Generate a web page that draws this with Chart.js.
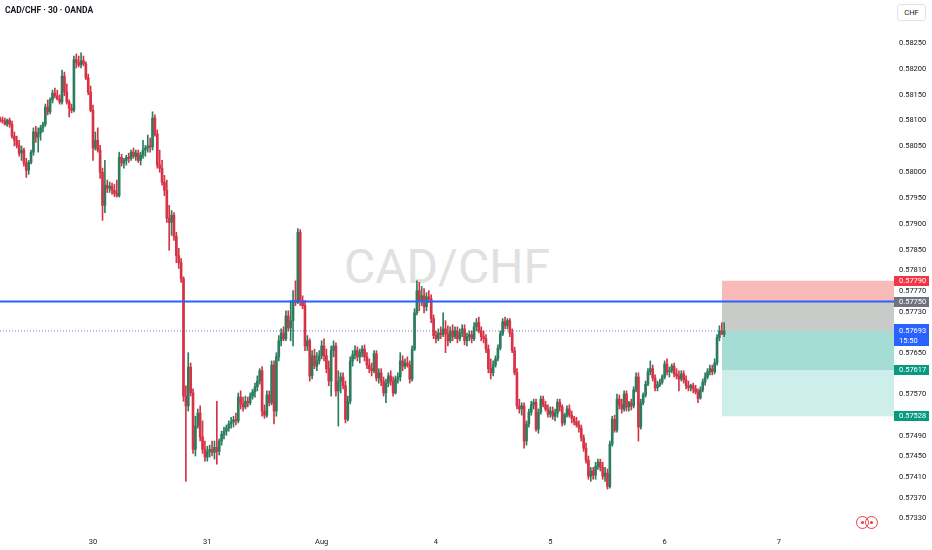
<!DOCTYPE html>
<html>
<head>
<meta charset="utf-8">
<script src="https://cdn.jsdelivr.net/npm/chart.js@4.4.1/dist/chart.umd.min.js"></script>
<style>
html,body{margin:0;padding:0;background:#fff;}
#wrap{position:relative;width:932px;height:550px;overflow:hidden;font-family:Roboto,"Noto Sans",sans-serif;}
#wm{position:absolute;left:0;top:3px;width:894px;height:526px;display:flex;align-items:center;justify-content:center;font-size:48px;color:#e1e1e1;z-index:0;white-space:nowrap;}
#c{position:absolute;left:0;top:0;z-index:1;}
#title{position:absolute;left:5px;top:5px;font-size:8.5px;font-weight:700;color:#131722;z-index:2;white-space:nowrap;}
#cur{position:absolute;left:897px;top:4px;width:27px;height:15px;border:1px solid #e0e3eb;border-radius:3px;font-size:7.5px;line-height:15px;text-align:center;color:#131722;background:#fff;z-index:2;}
.ring{position:absolute;top:516px;width:13px;height:13px;border:1.4px solid #f23645;border-radius:50%;z-index:2;box-sizing:border-box;}
.dot{position:absolute;top:3.6px;left:3.6px;width:3px;height:3px;background:#f23645;border-radius:50%;}
</style>
</head>
<body>
<div id="wrap">
  <div id="wm">CAD/CHF</div>
  <canvas id="c" width="932" height="550"></canvas>
  <div id="title">CAD/CHF · 30 · OANDA</div>
  <div id="cur">CHF</div>
  <div class="ring" style="left:856px"><div class="dot"></div></div>
  <div class="ring" style="left:865px"><div class="dot"></div></div>
</div>
<script>
// 30-minute candles, bar index 0..304 (CAD/CHF, OANDA)
const opens = [
0.58103,0.58101,0.58099,0.58093,0.58101,0.58093,0.58070,0.58062,0.58052,0.58037,
0.58043,0.58018,0.58004,0.58019,0.58039,0.58078,0.58068,0.58076,0.58086,0.58093,
0.58126,0.58117,0.58140,0.58153,0.58148,0.58142,0.58136,0.58186,0.58155,0.58136,
0.58124,0.58120,0.58218,0.58212,0.58208,0.58216,0.58210,0.58183,0.58155,0.58120,
0.58047,0.58062,0.58043,0.58000,0.57936,0.57975,0.57969,0.57973,0.57965,0.57959,
0.57955,0.58029,0.58018,0.58023,0.58029,0.58027,0.58039,0.58031,0.58037,0.58023,
0.58033,0.58043,0.58047,0.58051,0.58049,0.58105,0.58074,0.58014,0.58008,0.57981,
0.57965,0.57911,0.57903,0.57917,0.57876,0.57839,0.57825,0.57794,0.57567,0.57548,
0.57623,0.57573,0.57464,0.57509,0.57534,0.57488,0.57464,0.57449,0.57460,0.57464,
0.57458,0.57468,0.57460,0.57480,0.57493,0.57499,0.57505,0.57513,0.57517,0.57521,
0.57519,0.57565,0.57552,0.57546,0.57557,0.57554,0.57567,0.57575,0.57585,0.57596,
0.57616,0.57538,0.57530,0.57569,0.57554,0.57627,0.57538,0.57643,0.57674,0.57689,
0.57678,0.57722,0.57699,0.57713,0.57752,0.57748,0.57884,0.57752,0.57742,0.57664,
0.57674,0.57606,0.57645,0.57625,0.57635,0.57645,0.57664,0.57645,0.57620,0.57596,
0.57655,0.57664,0.57577,0.57596,0.57604,0.57587,0.57522,0.57557,0.57635,0.57647,
0.57655,0.57643,0.57651,0.57658,0.57643,0.57627,0.57620,0.57616,0.57649,0.57602,
0.57612,0.57596,0.57573,0.57592,0.57606,0.57596,0.57573,0.57600,0.57604,0.57635,
0.57625,0.57631,0.57627,0.57600,0.57658,0.57728,0.57771,0.57752,0.57761,0.57740,
0.57759,0.57755,0.57717,0.57684,0.57678,0.57689,0.57686,0.57697,0.57687,0.57674,
0.57693,0.57682,0.57693,0.57678,0.57689,0.57697,0.57674,0.57682,0.57686,0.57678,
0.57701,0.57709,0.57693,0.57682,0.57678,0.57658,0.57620,0.57612,0.57627,0.57639,
0.57660,0.57687,0.57711,0.57703,0.57713,0.57689,0.57655,0.57612,0.57548,0.57542,
0.57548,0.57480,0.57513,0.57536,0.57550,0.57555,0.57503,0.57536,0.57561,0.57550,
0.57542,0.57532,0.57538,0.57528,0.57534,0.57555,0.57546,0.57515,0.57530,0.57542,
0.57530,0.57524,0.57517,0.57511,0.57505,0.57486,0.57466,0.57443,0.57412,0.57422,
0.57414,0.57431,0.57439,0.57429,0.57412,0.57418,0.57392,0.57474,0.57522,0.57501,
0.57561,0.57550,0.57542,0.57571,0.57546,0.57554,0.57548,0.57579,0.57604,0.57507,
0.57554,0.57569,0.57590,0.57614,0.57620,0.57602,0.57583,0.57589,0.57594,0.57604,
0.57629,0.57614,0.57616,0.57625,0.57610,0.57606,0.57600,0.57610,0.57598,0.57587,
0.57583,0.57587,0.57581,0.57575,0.57563,0.57579,0.57594,0.57604,0.57614,0.57620,
0.57614,0.57631,0.57680,0.57693,0.57687];
const highs = [
0.58107,0.58107,0.58105,0.58103,0.58105,0.58099,0.58078,0.58070,0.58062,0.58051,
0.58047,0.58027,0.58023,0.58043,0.58086,0.58089,0.58086,0.58091,0.58097,0.58132,
0.58140,0.58144,0.58159,0.58163,0.58159,0.58150,0.58198,0.58194,0.58171,0.58140,
0.58132,0.58225,0.58229,0.58225,0.58231,0.58225,0.58214,0.58190,0.58167,0.58130,
0.58078,0.58086,0.58052,0.58008,0.58023,0.57985,0.57981,0.57979,0.57977,0.57985,
0.58039,0.58035,0.58027,0.58033,0.58037,0.58043,0.58047,0.58043,0.58043,0.58039,
0.58062,0.58052,0.58072,0.58066,0.58117,0.58111,0.58082,0.58043,0.58023,0.57994,
0.57985,0.57936,0.57926,0.57922,0.57884,0.57853,0.57833,0.57798,0.57587,0.57651,
0.57631,0.57581,0.57528,0.57542,0.57548,0.57519,0.57480,0.57470,0.57472,0.57480,
0.57480,0.57557,0.57484,0.57499,0.57507,0.57511,0.57519,0.57526,0.57528,0.57534,
0.57573,0.57577,0.57565,0.57567,0.57565,0.57573,0.57580,0.57592,0.57606,0.57620,
0.57624,0.57550,0.57577,0.57577,0.57635,0.57635,0.57651,0.57684,0.57697,0.57701,
0.57732,0.57732,0.57752,0.57771,0.57790,0.57891,0.57889,0.57761,0.57752,0.57684,
0.57678,0.57655,0.57658,0.57651,0.57655,0.57674,0.57678,0.57658,0.57635,0.57664,
0.57674,0.57670,0.57616,0.57612,0.57612,0.57596,0.57567,0.57643,0.57655,0.57664,
0.57662,0.57658,0.57664,0.57666,0.57651,0.57639,0.57631,0.57655,0.57655,0.57620,
0.57620,0.57604,0.57600,0.57612,0.57616,0.57604,0.57606,0.57612,0.57651,0.57645,
0.57639,0.57643,0.57635,0.57664,0.57736,0.57790,0.57787,0.57779,0.57775,0.57767,
0.57771,0.57763,0.57724,0.57693,0.57697,0.57701,0.57728,0.57713,0.57703,0.57701,
0.57705,0.57701,0.57701,0.57697,0.57705,0.57705,0.57689,0.57693,0.57693,0.57709,
0.57717,0.57720,0.57701,0.57693,0.57686,0.57666,0.57639,0.57635,0.57645,0.57666,
0.57693,0.57717,0.57720,0.57717,0.57717,0.57697,0.57662,0.57620,0.57561,0.57554,
0.57554,0.57519,0.57542,0.57557,0.57561,0.57561,0.57542,0.57567,0.57567,0.57557,
0.57550,0.57546,0.57546,0.57542,0.57561,0.57561,0.57550,0.57534,0.57548,0.57550,
0.57538,0.57528,0.57526,0.57519,0.57511,0.57492,0.57476,0.57451,0.57429,0.57429,
0.57439,0.57445,0.57445,0.57439,0.57429,0.57426,0.57480,0.57528,0.57530,0.57571,
0.57569,0.57561,0.57577,0.57577,0.57557,0.57561,0.57585,0.57612,0.57612,0.57561,
0.57573,0.57596,0.57620,0.57635,0.57627,0.57608,0.57596,0.57600,0.57608,0.57635,
0.57639,0.57623,0.57629,0.57631,0.57620,0.57616,0.57616,0.57616,0.57606,0.57596,
0.57590,0.57592,0.57588,0.57581,0.57585,0.57600,0.57612,0.57620,0.57627,0.57627,
0.57639,0.57686,0.57703,0.57709,0.57709];
const lows = [
0.58097,0.58095,0.58091,0.58089,0.58087,0.58066,0.58051,0.58047,0.58031,0.58023,
0.58012,0.57990,0.57996,0.58016,0.58033,0.58058,0.58039,0.58062,0.58078,0.58089,
0.58111,0.58113,0.58134,0.58144,0.58140,0.58132,0.58132,0.58148,0.58132,0.58107,
0.58115,0.58117,0.58202,0.58204,0.58202,0.58206,0.58179,0.58150,0.58117,0.58023,
0.58043,0.58039,0.57988,0.57907,0.57922,0.57961,0.57961,0.57957,0.57953,0.57952,
0.57952,0.58012,0.58008,0.58014,0.58019,0.58023,0.58027,0.58023,0.58019,0.58014,
0.58027,0.58031,0.58039,0.58039,0.58043,0.58070,0.58008,0.58000,0.57975,0.57955,
0.57903,0.57849,0.57878,0.57868,0.57825,0.57814,0.57787,0.57557,0.57402,0.57538,
0.57567,0.57456,0.57451,0.57505,0.57480,0.57456,0.57441,0.57441,0.57449,0.57451,
0.57445,0.57435,0.57453,0.57472,0.57484,0.57491,0.57499,0.57505,0.57507,0.57511,
0.57515,0.57542,0.57538,0.57542,0.57546,0.57550,0.57561,0.57565,0.57577,0.57590,
0.57528,0.57524,0.57526,0.57548,0.57550,0.57513,0.57528,0.57635,0.57664,0.57674,
0.57674,0.57693,0.57674,0.57664,0.57742,0.57746,0.57742,0.57736,0.57655,0.57655,
0.57596,0.57600,0.57620,0.57616,0.57629,0.57639,0.57635,0.57612,0.57587,0.57567,
0.57643,0.57567,0.57509,0.57573,0.57581,0.57515,0.57519,0.57552,0.57625,0.57639,
0.57635,0.57631,0.57643,0.57635,0.57620,0.57612,0.57606,0.57612,0.57596,0.57592,
0.57587,0.57567,0.57554,0.57585,0.57588,0.57567,0.57571,0.57592,0.57596,0.57616,
0.57620,0.57623,0.57592,0.57596,0.57655,0.57724,0.57732,0.57742,0.57728,0.57732,
0.57748,0.57709,0.57678,0.57670,0.57674,0.57678,0.57682,0.57651,0.57664,0.57670,
0.57674,0.57678,0.57670,0.57674,0.57682,0.57666,0.57664,0.57674,0.57670,0.57674,
0.57693,0.57689,0.57674,0.57670,0.57651,0.57612,0.57600,0.57606,0.57623,0.57635,
0.57656,0.57684,0.57697,0.57697,0.57682,0.57651,0.57608,0.57542,0.57534,0.57530,
0.57466,0.57472,0.57507,0.57530,0.57542,0.57499,0.57495,0.57532,0.57546,0.57538,
0.57526,0.57526,0.57522,0.57519,0.57526,0.57538,0.57509,0.57511,0.57526,0.57526,
0.57515,0.57511,0.57507,0.57497,0.57480,0.57460,0.57437,0.57406,0.57402,0.57406,
0.57406,0.57425,0.57422,0.57406,0.57402,0.57387,0.57389,0.57470,0.57497,0.57497,
0.57542,0.57534,0.57538,0.57538,0.57538,0.57540,0.57544,0.57575,0.57480,0.57503,
0.57550,0.57565,0.57587,0.57608,0.57596,0.57577,0.57577,0.57585,0.57590,0.57600,
0.57608,0.57604,0.57612,0.57604,0.57600,0.57577,0.57596,0.57592,0.57581,0.57577,
0.57577,0.57573,0.57571,0.57554,0.57561,0.57575,0.57588,0.57600,0.57608,0.57608,
0.57610,0.57627,0.57674,0.57686,0.57682];
const closes = [
0.58101,0.58099,0.58093,0.58101,0.58093,0.58070,0.58062,0.58052,0.58037,0.58043,
0.58018,0.58004,0.58019,0.58039,0.58078,0.58068,0.58076,0.58086,0.58093,0.58126,
0.58117,0.58140,0.58153,0.58148,0.58142,0.58136,0.58186,0.58155,0.58136,0.58124,
0.58120,0.58218,0.58212,0.58208,0.58216,0.58210,0.58183,0.58155,0.58120,0.58047,
0.58062,0.58043,0.58000,0.57936,0.57975,0.57969,0.57973,0.57965,0.57959,0.57955,
0.58029,0.58018,0.58023,0.58029,0.58027,0.58039,0.58031,0.58037,0.58023,0.58033,
0.58043,0.58047,0.58051,0.58049,0.58105,0.58074,0.58014,0.58008,0.57981,0.57965,
0.57911,0.57903,0.57917,0.57876,0.57839,0.57825,0.57794,0.57567,0.57548,0.57623,
0.57573,0.57464,0.57509,0.57534,0.57488,0.57464,0.57449,0.57460,0.57464,0.57458,
0.57468,0.57460,0.57480,0.57493,0.57499,0.57505,0.57513,0.57517,0.57521,0.57519,
0.57565,0.57552,0.57546,0.57557,0.57554,0.57567,0.57575,0.57585,0.57596,0.57616,
0.57538,0.57530,0.57569,0.57554,0.57627,0.57538,0.57643,0.57674,0.57689,0.57678,
0.57722,0.57699,0.57713,0.57752,0.57748,0.57884,0.57752,0.57742,0.57664,0.57674,
0.57606,0.57645,0.57625,0.57635,0.57645,0.57664,0.57645,0.57620,0.57596,0.57655,
0.57664,0.57577,0.57596,0.57604,0.57587,0.57522,0.57557,0.57635,0.57647,0.57655,
0.57643,0.57651,0.57658,0.57643,0.57627,0.57620,0.57616,0.57649,0.57602,0.57612,
0.57596,0.57573,0.57592,0.57606,0.57596,0.57573,0.57600,0.57604,0.57635,0.57625,
0.57631,0.57627,0.57600,0.57658,0.57728,0.57771,0.57752,0.57761,0.57740,0.57759,
0.57755,0.57717,0.57684,0.57678,0.57689,0.57686,0.57697,0.57687,0.57674,0.57693,
0.57682,0.57693,0.57678,0.57689,0.57697,0.57674,0.57682,0.57686,0.57678,0.57701,
0.57709,0.57693,0.57682,0.57678,0.57658,0.57620,0.57612,0.57627,0.57639,0.57660,
0.57687,0.57711,0.57703,0.57713,0.57689,0.57655,0.57612,0.57548,0.57542,0.57548,
0.57480,0.57513,0.57536,0.57550,0.57555,0.57503,0.57536,0.57561,0.57550,0.57542,
0.57532,0.57538,0.57528,0.57534,0.57555,0.57546,0.57515,0.57530,0.57542,0.57530,
0.57524,0.57517,0.57511,0.57505,0.57486,0.57466,0.57443,0.57412,0.57422,0.57414,
0.57431,0.57439,0.57429,0.57412,0.57418,0.57392,0.57474,0.57522,0.57501,0.57561,
0.57550,0.57542,0.57571,0.57546,0.57554,0.57548,0.57579,0.57604,0.57507,0.57554,
0.57569,0.57590,0.57614,0.57620,0.57602,0.57583,0.57589,0.57594,0.57604,0.57629,
0.57614,0.57616,0.57625,0.57610,0.57606,0.57600,0.57610,0.57598,0.57587,0.57583,
0.57587,0.57581,0.57575,0.57563,0.57579,0.57594,0.57604,0.57614,0.57620,0.57614,
0.57631,0.57680,0.57693,0.57687,0.57693];

// time axis: bar index at which each day starts, and its label
const dayTickIndex  = [39, 87, 135, 183, 231, 279, 327];
const dayTickLabels = ['30', '31', 'Aug', '4', '5', '6', '7'];

// price axis tick labels
const yTickValues = [0.58250,0.58200,0.58150,0.58100,0.58050,0.58000,0.57950,0.57900,0.57850,
  0.57810,0.57770,0.57730,0.57650,0.57570,0.57490,0.57450,0.57410,0.57370,0.57330];

// drawings
const hLinePrice = 0.57750;
const lastPrice = 0.57693;
const countdown = '15:50';
const positionStartIndex = 303.1;
const positionLevels = [0.57790, 0.57750, 0.57693, 0.57617, 0.57528];
const axisLevelPrices = [0.57790, 0.57750, 0.57617, 0.57528];

// ---- styles ----
const UP = '#2b7d5e', DOWN = '#d63346';
const X_MIN = -0.04, X_MAX = 375.3;
const Y_MIN = 0.573156, Y_MAX = 0.583334;
const zoneColors = ['rgba(0,0,0,0)', '#f8b9b9', '#c9cbc8', '#a5dcd4', '#cdeeea'];
const axisLevelColors = ['#f23645', '#70737d', '#089981', '#089981'];
const FONT = 'Roboto, "Noto Sans", sans-serif';

const candleColor = (ctx) => {
  const i = ctx.dataIndex;
  return closes[i] >= opens[i] ? UP : DOWN;
};

const datasets = [];
// position tool zones
positionLevels.forEach((p, k) => {
  datasets.push({
    type: 'line',
    data: [{x: positionStartIndex, y: p}, {x: X_MAX + 5, y: p}],
    borderWidth: 0, pointRadius: 0,
    borderColor: 'rgba(0,0,0,0)',
    backgroundColor: zoneColors[k],
    fill: k === 0 ? false : '-1',
    order: 5
  });
});
// current price dotted line
datasets.push({
  type: 'line',
  data: [{x: X_MIN, y: lastPrice}, {x: positionStartIndex, y: lastPrice}],
  borderColor: '#5b7cf0', borderWidth: 1, borderDash: [1, 2],
  pointRadius: 0, fill: false, order: 4
});
// wicks
datasets.push({
  type: 'bar',
  data: lows.map((l, i) => ({x: i, y: [l, highs[i]]})),
  backgroundColor: candleColor, borderWidth: 0,
  barThickness: 1, grouped: false, order: 3
});
// bodies
datasets.push({
  type: 'bar',
  data: opens.map((o, i) => ({x: i, y: [o, closes[i]]})),
  backgroundColor: candleColor, borderWidth: 0,
  barThickness: 2, grouped: false, minBarLength: 1, order: 2
});
// horizontal line
datasets.push({
  type: 'line',
  data: [{x: X_MIN, y: hLinePrice}, {x: X_MAX + 5, y: hLinePrice}],
  borderColor: '#2962ff', borderWidth: 2, pointRadius: 0, fill: false, order: 1
});

const axisLabelPlugin = {
  id: 'axisLabels',
  afterDraw(chart) {
    const {ctx, chartArea, scales: {y}} = chart;
    const x0 = chartArea.right, w = 35;
    ctx.save();
    ctx.font = '7.5px ' + FONT;
    ctx.textBaseline = 'middle';
    ctx.textAlign = 'left';
    axisLevelPrices.forEach((p, k) => {
      const py = Math.round(y.getPixelForValue(p));
      ctx.fillStyle = axisLevelColors[k];
      ctx.fillRect(x0, py - 5, w, 10);
      ctx.fillStyle = '#ffffff';
      ctx.fillText(p.toFixed(5), x0 + 5, py + 0.5);
    });
    const py = Math.round(y.getPixelForValue(lastPrice));
    ctx.fillStyle = '#2962ff';
    ctx.fillRect(x0, py - 7, w, 22);
    ctx.fillStyle = '#ffffff';
    ctx.fillText(lastPrice.toFixed(5), x0 + 5, py);
    ctx.fillText(countdown, x0 + 5, py + 10);
    ctx.restore();
  }
};

const noPad = (s) => { s.paddingTop = 0; s.paddingBottom = 0; s.paddingLeft = 0; s.paddingRight = 0; };

new Chart(document.getElementById('c'), {
  type: 'bar',
  data: { datasets },
  plugins: [axisLabelPlugin],
  options: {
    responsive: false,
    animation: false,
    layout: { padding: 0 },
    plugins: { legend: { display: false }, tooltip: { enabled: false }, title: { display: false } },
    scales: {
      x: {
        type: 'linear', min: X_MIN, max: X_MAX, offset: false,
        grid: { display: false, drawTicks: false },
        border: { display: false },
        afterFit(s) { s.height = 24; noPad(s); },
        afterBuildTicks(s) { s.ticks = dayTickIndex.map(v => ({ value: v })); },
        ticks: {
          autoSkip: false, maxRotation: 0, padding: 12,
          color: '#131722', font: { family: FONT, size: 7.5 },
          callback: (v, i) => dayTickLabels[i]
        }
      },
      y: {
        type: 'linear', position: 'right', min: Y_MIN, max: Y_MAX,
        grid: { display: false, drawTicks: false },
        border: { display: false },
        afterFit(s) { s.width = 38; noPad(s); },
        afterBuildTicks(s) { s.ticks = yTickValues.map(v => ({ value: v })); },
        ticks: {
          padding: 5, color: '#131722', font: { family: FONT, size: 7.5 },
          callback: (v) => Number(v).toFixed(5)
        }
      }
    }
  }
});
</script>
</body>
</html>
